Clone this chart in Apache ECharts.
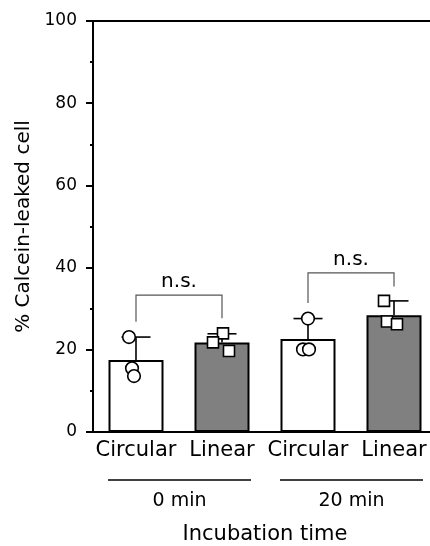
<!DOCTYPE html>
<html>
<head>
<meta charset="utf-8">
<script src="https://cdn.jsdelivr.net/npm/echarts@6/dist/echarts.min.js"></script>
<style>
  html, body { margin: 0; padding: 0; background: #fff; }
  #chart { width: 430px; height: 546px; }
</style>
</head>
<body>
<div id="chart"></div>
<script>
// Calcein leakage: circular vs linear, at 0 and 20 min incubation
const categories = ['Circular', 'Linear', 'Circular', 'Linear'];
const groups = ['0 min', '20 min'];
const meanLeaked = [17.5, 21.8, 22.6, 28.4];
const sdLeaked = [5.6, 2.1, 5.0, 3.5];
const circular0 = [23.1, 15.5, 13.6];
const linear0 = [24.0, 21.8, 19.7];
const circular20 = [27.6, 20.1, 20.1];
const linear20 = [31.9, 26.9, 26.2];
const yTicks = [0, 20, 40, 60, 80, 100];
const comparisonLabels = ['n.s.', 'n.s.'];

const FONT = 'DejaVu Sans';
const replicates = [circular0, linear0, circular20, linear20];
const isLinear = categories.map(c => c === 'Linear');

// horizontal scatter of the replicate markers (px)
const jitter = [[-7, -4, -2], [1, -9, 7], [0, -5, 1], [-10, -7, 3]];
// bracket geometry in axis units: [top, left leg end, right leg end]
const bracketLayout = [[33.3, 26.8, 27.7], [38.7, 31.4, 35.4]];

const pointData = [];
replicates.forEach((vals, ci) => vals.forEach((v, ri) => pointData.push([ci, v, ri])));

const chart = echarts.init(document.getElementById('chart'), null, { renderer: 'canvas' });

const option = {
  animation: false,
  backgroundColor: '#fff',
  grid: {
    left: 93, top: 21, width: 344, height: 411,
    outerBoundsMode: 'none',
    containLabel: false,
    show: true, borderColor: '#000', borderWidth: 2, backgroundColor: 'transparent'
  },
  xAxis: {
    type: 'category',
    data: categories,
    axisLine: { lineStyle: { color: '#000', width: 2 } },
    axisTick: { alignWithLabel: true, length: 5, lineStyle: { color: '#000', width: 2 } },
    axisLabel: { interval: 0, color: '#000', fontFamily: FONT, fontSize: 21, margin: 8, hideOverlap: false },
    splitLine: { show: false }
  },
  yAxis: {
    type: 'value',
    min: yTicks[0], max: yTicks[yTicks.length - 1], interval: yTicks[1] - yTicks[0],
    name: '% Calcein-leaked cell',
    nameLocation: 'middle',
    nameGap: 56,
    nameTextStyle: { color: '#000', fontFamily: FONT, fontSize: 20 },
    axisLine: { show: true, lineStyle: { color: '#000', width: 2 } },
    axisTick: { show: true, length: 7, lineStyle: { color: '#000', width: 2 } },
    minorTick: { show: true, splitNumber: 2, length: 3, lineStyle: { color: '#000', width: 2 } },
    axisLabel: { color: '#000', fontFamily: FONT, fontSize: 17, margin: 16 },
    splitLine: { show: false }
  },
  series: [
    {
      type: 'bar',
      barWidth: 55,
      data: meanLeaked.map((v, i) => ({
        value: v,
        itemStyle: { color: isLinear[i] ? '#808080' : '#ffffff', borderColor: '#000', borderWidth: 2 }
      })),
      z: 2
    },
    {
      // upper error bars (mean + SD)
      type: 'custom',
      data: meanLeaked.map((m, i) => [i, m, sdLeaked[i]]),
      z: 3,
      renderItem: (params, api) => {
        const i = api.value(0), m = api.value(1), sd = api.value(2);
        const base = api.coord([i, m]);
        const top = api.coord([i, m + sd]);
        const half = 14.5;
        const style = { stroke: '#000', lineWidth: 1.6 };
        return {
          type: 'group',
          children: [
            { type: 'line', shape: { x1: base[0], y1: base[1], x2: top[0], y2: top[1] }, style },
            { type: 'line', shape: { x1: top[0] - half, y1: top[1], x2: top[0] + half, y2: top[1] }, style }
          ]
        };
      }
    },
    {
      // individual replicate values
      type: 'custom',
      data: pointData,
      z: 4,
      renderItem: (params, api) => {
        const ci = api.value(0), v = api.value(1), ri = api.value(2);
        const p = api.coord([ci, v]);
        const x = p[0] + jitter[ci][ri];
        const style = { fill: '#fff', stroke: '#000', lineWidth: 1.6 };
        if (isLinear[ci]) {
          const s = 11;
          return { type: 'rect', shape: { x: x - s / 2, y: p[1] - s / 2, width: s, height: s }, style };
        }
        return { type: 'circle', shape: { cx: x, cy: p[1], r: 6.3 }, style };
      }
    },
    {
      // significance brackets
      type: 'custom',
      data: groups.map((g, gi) => [gi * 2, gi * 2 + 1, gi]),
      z: 5,
      renderItem: (params, api) => {
        const a = api.value(0), b = api.value(1), gi = api.value(2);
        const [yTop, yL, yR] = bracketLayout[gi];
        const pL = api.coord([a, yTop]);
        const pR = api.coord([b, yTop]);
        const lEnd = api.coord([a, yL]);
        const rEnd = api.coord([b, yR]);
        const style = { stroke: '#555', lineWidth: 1.2, fill: null };
        return {
          type: 'group',
          children: [
            { type: 'polyline', shape: { points: [[lEnd[0], lEnd[1]], [pL[0], pL[1]], [pR[0], pR[1]], [rEnd[0], rEnd[1]]] }, style },
            {
              type: 'text',
              style: {
                text: comparisonLabels[gi],
                x: (pL[0] + pR[0]) / 2, y: pL[1] - 3,
                align: 'center', verticalAlign: 'bottom',
                fill: '#000', fontFamily: FONT, fontSize: 20
              }
            }
          ]
        };
      }
    }
  ]
};

chart.setOption(option);

// group underlines and labels beneath the category axis
const px = i => chart.convertToPixel({ xAxisIndex: 0 }, i);
const graphics = [];
groups.forEach((g, gi) => {
  const x0 = px(gi * 2) - 28;
  const x1 = px(gi * 2 + 1) + 29;
  graphics.push({
    type: 'line', shape: { x1: x0, y1: 480, x2: x1, y2: 480 },
    style: { stroke: '#000', lineWidth: 1.6 }
  });
  graphics.push({
    type: 'text',
    style: {
      text: g, x: (x0 + x1) / 2, y: 501, align: 'center', verticalAlign: 'middle',
      fill: '#000', fontFamily: FONT, fontSize: 19
    }
  });
});
graphics.push({
  type: 'text',
  style: {
    text: 'Incubation time', x: (px(0) + px(3)) / 2, y: 535, align: 'center', verticalAlign: 'middle',
    fill: '#000', fontFamily: FONT, fontSize: 21
  }
});
chart.setOption({ graphic: graphics });
</script>
</body>
</html>
